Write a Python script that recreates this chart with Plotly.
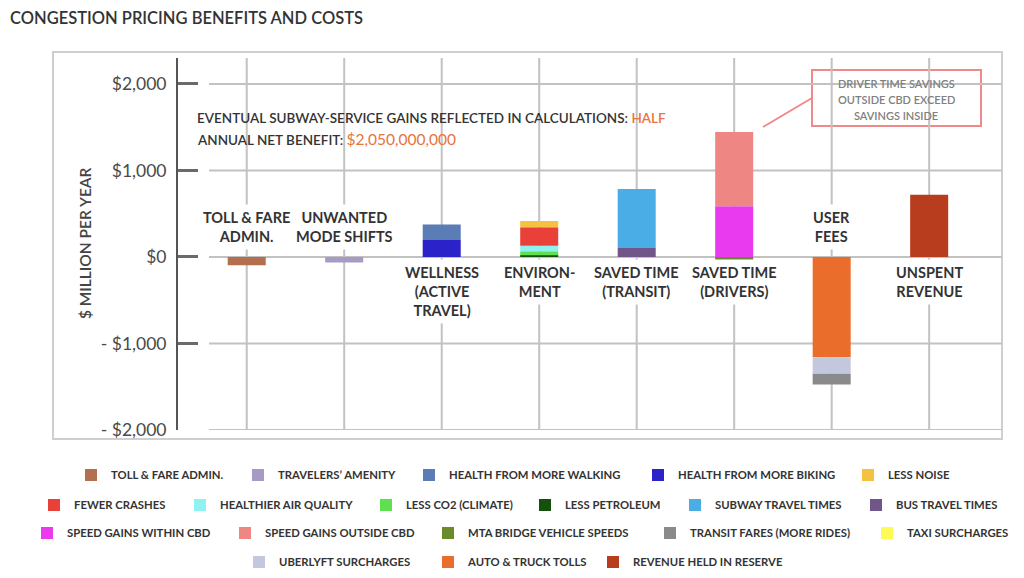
import plotly.graph_objects as go

# ---------------- data ----------------
categories = ["TOLL & FARE ADMIN.", "UNWANTED MODE SHIFTS", "WELLNESS (ACTIVE TRAVEL)",
              "ENVIRONMENT", "SAVED TIME (TRANSIT)", "SAVED TIME (DRIVERS)",
              "USER FEES", "UNSPENT REVENUE"]
category_labels = ["TOLL & FARE<br>ADMIN.", "UNWANTED<br>MODE SHIFTS", "WELLNESS<br>(ACTIVE<br>TRAVEL)",
                   "ENVIRON-<br>MENT", "SAVED TIME<br>(TRANSIT)", "SAVED TIME<br>(DRIVERS)",
                   "USER<br>FEES", "UNSPENT<br>REVENUE"]
label_above = [True, True, False, False, False, False, True, False]

# series in stacking order ($ million per year)
series_names = ["TOLL & FARE ADMIN.", "TRAVELERS\u2019 AMENITY", "HEALTH FROM MORE BIKING",
                "HEALTH FROM MORE WALKING", "LESS PETROLEUM", "LESS CO2 (CLIMATE)",
                "HEALTHIER AIR QUALITY", "FEWER CRASHES", "LESS NOISE",
                "BUS TRAVEL TIMES", "SUBWAY TRAVEL TIMES", "SPEED GAINS WITHIN CBD",
                "SPEED GAINS OUTSIDE CBD", "MTA BRIDGE VEHICLE SPEEDS", "AUTO & TRUCK TOLLS",
                "UBERLYFT SURCHARGES", "TRANSIT FARES (MORE RIDES)", "TAXI SURCHARGES",
                "REVENUE HELD IN RESERVE"]
series_category = [0, 1, 2, 2, 3, 3, 3, 3, 3, 4, 4, 5, 5, 5, 6, 6, 6, 6, 7]
series_values = [-95, -65, 195, 180, 20, 45, 65, 215, 70, 105, 680, 585, 860, -35,
                 -1160, -190, -125, 0, 720]

# legend rows (in display order)
legend_rows = [
    ["TOLL & FARE ADMIN.", "TRAVELERS\u2019 AMENITY", "HEALTH FROM MORE WALKING",
     "HEALTH FROM MORE BIKING", "LESS NOISE"],
    ["FEWER CRASHES", "HEALTHIER AIR QUALITY", "LESS CO2 (CLIMATE)", "LESS PETROLEUM",
     "SUBWAY TRAVEL TIMES", "BUS TRAVEL TIMES"],
    ["SPEED GAINS WITHIN CBD", "SPEED GAINS OUTSIDE CBD", "MTA BRIDGE VEHICLE SPEEDS",
     "TRANSIT FARES (MORE RIDES)", "TAXI SURCHARGES"],
    ["UBERLYFT SURCHARGES", "AUTO & TRUCK TOLLS", "REVENUE HELD IN RESERVE"],
]

y_tickvals = [-2000, -1000, 0, 1000, 2000]
y_ticktext = ["- $2,000", "- $1,000", "$0", "$1,000", "$2,000"]

# ---------------- styles ----------------
series_colors = {
    "TOLL & FARE ADMIN.": "#b3704f",
    "TRAVELERS\u2019 AMENITY": "#a79bc6",
    "HEALTH FROM MORE BIKING": "#2b22c9",
    "HEALTH FROM MORE WALKING": "#5a7db6",
    "LESS PETROLEUM": "#15500e",
    "LESS CO2 (CLIMATE)": "#5fe04e",
    "HEALTHIER AIR QUALITY": "#8ef3f0",
    "FEWER CRASHES": "#e9413a",
    "LESS NOISE": "#f5c140",
    "BUS TRAVEL TIMES": "#71568a",
    "SUBWAY TRAVEL TIMES": "#4aade6",
    "SPEED GAINS WITHIN CBD": "#ea3af0",
    "SPEED GAINS OUTSIDE CBD": "#ee8684",
    "MTA BRIDGE VEHICLE SPEEDS": "#6b8a2c",
    "AUTO & TRUCK TOLLS": "#eb6d2c",
    "UBERLYFT SURCHARGES": "#c3c8de",
    "TRANSIT FARES (MORE RIDES)": "#8a8a8a",
    "TAXI SURCHARGES": "#fffb55",
    "REVENUE HELD IN RESERVE": "#b83c1e",
}

FONT = "Lato, 'Open Sans', sans-serif"
DARK = "#333333"
ORANGE = "#e8743b"
GRID = "#c2c2c2"
PINK = "#f08a8a"

# page body margin offset (the figure is drawn 8px in from the page corner)
OFF = 8
W, H = 1024 - 2 * OFF, 578 - 2 * OFF
# plot area in reference-picture pixels
PL, PR, PT, PB = 178, 1002, 58, 430
X_RANGE = [-0.705, 7.747]
Y_RANGE = [-2000, 2300]

# legend layout: row centres and left edge of each swatch (reference pixels)
legend_row_y_px = [475, 505, 533, 562]
legend_swatch_x_px = [
    [85, 252, 423, 652, 862],
    [48, 194, 380, 539, 689, 870],
    [41, 239, 442, 664, 881],
    [253, 442, 607],
]


def fx(p):
    return (p - PL) / (PR - PL)


def fy(p):
    return (PB - p) / (PB - PT)


fig = go.Figure()

# one single-entry legend per series so each entry sits where the reference puts it
legend_of = {}
layout_legends = {}
n = 0
for r, row in enumerate(legend_rows):
    for k, nm in enumerate(row):
        n += 1
        lid = "legend" if n == 1 else "legend%d" % n
        legend_of[nm] = lid
        layout_legends[lid] = dict(
            orientation="h", xanchor="left", yanchor="middle", bgcolor="rgba(0,0,0,0)",
            x=fx(legend_swatch_x_px[r][k] - 14), y=fy(legend_row_y_px[r]),
            font=dict(family=FONT, size=11.3, color=DARK, weight=700), itemwidth=30,
            itemclick=False, itemdoubleclick=False)

for name, cat, val in zip(series_names, series_category, series_values):
    fig.add_trace(go.Bar(
        x=[categories[cat]], y=[val], name=name,
        marker=dict(color=series_colors[name], line=dict(width=0)),
        width=0.39, legend=legend_of[name],
        hovertemplate="%{x}<br>" + name + ": $%{y}M<extra></extra>",
    ))

shapes = []
# horizontal gridlines
for v in y_tickvals:
    shapes.append(dict(type="line", xref="x", yref="y", x0=-0.387, x1=X_RANGE[1], y0=v, y1=v,
                       line=dict(color=GRID, width=2), layer="below"))
# vertical gridlines
for i in range(len(categories)):
    shapes.append(dict(type="line", xref="x", yref="y", x0=i, x1=i, y0=Y_RANGE[0], y1=Y_RANGE[1],
                       line=dict(color=GRID, width=2), layer="below"))
# white mask behind the note text
shapes.append(dict(type="rect", xref="paper", yref="paper", x0=fx(188), x1=fx(684),
                   y0=fy(156), y1=fy(96), fillcolor="white", line=dict(width=0), layer="below"))
# callout box + connector
shapes.append(dict(type="rect", xref="paper", yref="paper", x0=fx(812), x1=fx(981),
                   y0=fy(126), y1=fy(70), fillcolor="white", line=dict(color=PINK, width=2),
                   layer="below"))
shapes.append(dict(type="line", xref="paper", yref="paper", x0=fx(763), y0=fy(127),
                   x1=fx(812), y1=fy(98), line=dict(color=PINK, width=2)))
# outer frame
shapes.append(dict(type="rect", xref="paper", yref="paper", x0=fx(53), x1=fx(1002),
                   y0=fy(439), y1=fy(52), line=dict(color="#cfcfcf", width=2),
                   fillcolor="rgba(0,0,0,0)", layer="below"))

annotations = []
# category labels
for i, (lab, above) in enumerate(zip(category_labels, label_above)):
    annotations.append(dict(
        x=categories[i], y=0, xref="x", yref="y", text="<b>" + lab + "</b>", showarrow=False,
        font=dict(family=FONT, size=14.5, color=DARK), bgcolor="white", borderpad=4,
        yanchor="bottom" if above else "top", yshift=7 if above else -2, align="center"))

# note lines
annotations.append(dict(
    x=fx(195), y=fy(118), xref="paper", yref="paper", xanchor="left", yanchor="middle",
    showarrow=False, font=dict(family=FONT, size=13.5, color=DARK, weight=600),
    text="EVENTUAL SUBWAY-SERVICE GAINS REFLECTED IN CALCULATIONS: "
         "<span style='color:" + ORANGE + "'>HALF</span>"))
annotations.append(dict(
    x=fx(195), y=fy(139), xref="paper", yref="paper", xanchor="left", yanchor="middle",
    showarrow=False, font=dict(family=FONT, size=13.5, color=DARK, weight=600),
    text="ANNUAL NET BENEFIT: <span style='color:" + ORANGE
         + ";font-weight:400;font-size:15.5px'>$2,050,000,000</span>"))

# callout text
for txt, yy in zip(["DRIVER TIME SAVINGS", "OUTSIDE CBD EXCEED", "SAVINGS INSIDE"], [83, 99, 115]):
    annotations.append(dict(x=fx(896), y=fy(yy), xref="paper", yref="paper", showarrow=False,
                            text=txt, font=dict(family=FONT, size=11, color="#808080", weight=600),
                            xanchor="center", yanchor="middle"))

# y axis title
annotations.append(dict(x=fx(85), y=fy(244), xref="paper", yref="paper", showarrow=False,
                        text="$ MILLION PER YEAR", textangle=-90,
                        font=dict(family=FONT, size=15.5, color="#444444", weight=600),
                        xanchor="center", yanchor="middle"))

fig.update_layout(
    width=W, height=H,
    margin=dict(l=PL - OFF, r=W - (PR - OFF), t=PT - OFF, b=H - (PB - OFF), autoexpand=False),
    paper_bgcolor="white", plot_bgcolor="white",
    barmode="relative",
    showlegend=True,
    title=dict(text="CONGESTION PRICING BENEFITS AND COSTS", x=(10 - OFF) / W, xref="container",
               xanchor="left", y=1 - (18 - OFF) / H, yref="container", yanchor="middle",
               font=dict(family=FONT, size=16.5, color=DARK, weight=600)),
    xaxis=dict(type="category", range=X_RANGE, visible=False, fixedrange=True),
    yaxis=dict(range=Y_RANGE, tickvals=y_tickvals, ticktext=y_ticktext, showgrid=False,
               zeroline=False, showline=True, linecolor="#555555", linewidth=2,
               ticks="inside", ticklen=20, tickwidth=2.5, tickcolor="#6a6a6a",
               ticklabelstandoff=6, tickfont=dict(family=FONT, size=17.5, color="#4a4a4a"),
               fixedrange=True, automargin=False),
    shapes=shapes,
    annotations=annotations,
    **layout_legends,
)

fig.write_html("out.html")
